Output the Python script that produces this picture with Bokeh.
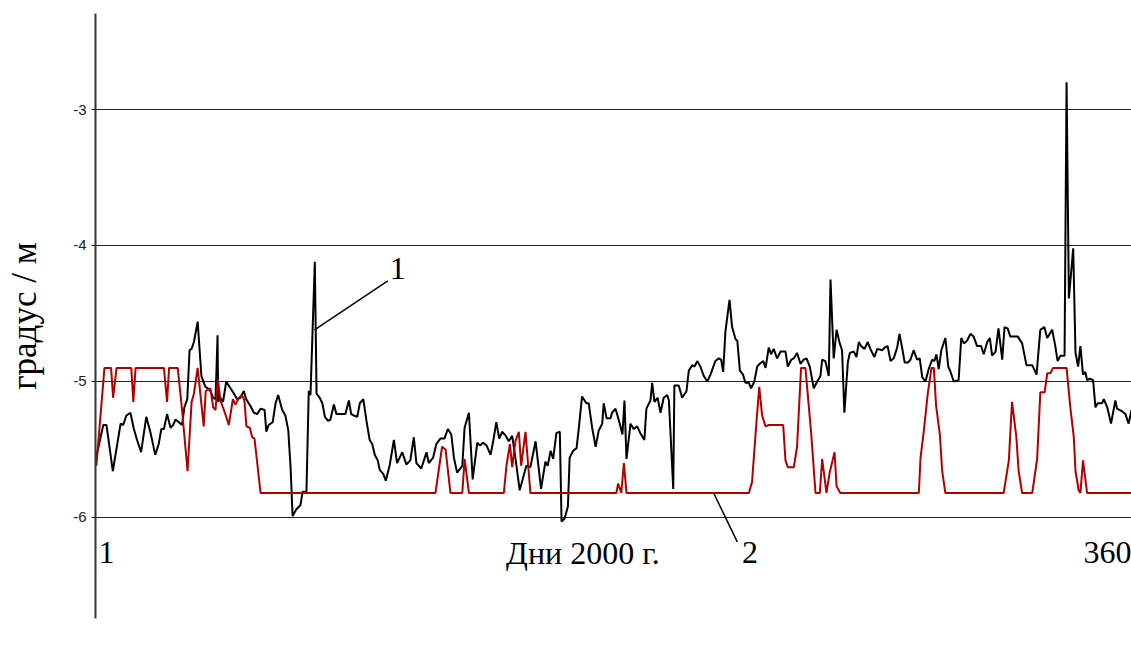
from bokeh.embed import file_html
from bokeh.models import FixedTicker, Label, Range1d
from bokeh.plotting import figure
from bokeh.resources import INLINE

# Series 1 (black): daily gradient values, day of year 2000 -> degrees per metre
BLACK_DAYS = [
    1.3, 3.7, 4.8, 7.0, 9.7, 10.6, 11.7, 13.1, 14.3, 15.4, 16.8, 18.6, 20.1, 21.7, 22.9,
    23.8, 24.7, 25.8, 27.0, 27.9, 28.7, 29.9, 31.0, 31.8, 32.8, 33.6, 34.3, 35.1, 36.4,
    37.7, 39.1, 39.9, 40.8, 41.8, 42.6, 43.3, 43.5, 44.3, 45.2, 46.3, 47.5, 48.7, 50.1,
    51.2, 52.4, 53.2, 54.7, 55.9, 57.0, 58.2, 59.6, 60.2, 61.0, 62.4, 63.4, 64.3, 65.7,
    66.8, 67.8, 68.6, 69.3, 70.6, 72.0, 72.8, 74.1, 74.9, 75.5, 77.0, 77.6, 78.7, 79.6,
    80.5, 81.6, 82.4, 83.6, 84.5, 87.6, 88.8, 89.6, 90.5, 91.7, 92.6, 93.8, 94.9, 96.0,
    96.9, 97.8, 98.8, 99.5, 100.7, 101.6, 103.0, 104.4, 105.5, 107.3, 108.7, 110.1,
    111.3, 112.2, 113.9, 114.8, 115.7, 116.5, 118.0, 119.1, 120.5, 121.9, 123.1, 124.3,
    125.2, 126.3, 128.1, 128.9, 130.4, 131.7, 133.3, 134.2, 135.3, 136.5, 137.9, 138.8,
    139.9, 140.9, 141.9, 143.2, 144.2, 145.4, 146.5, 148.0, 149.4, 150.3, 151.7, 153.5,
    155.4, 156.9, 157.7, 158.7, 159.6, 160.7, 161.9, 162.5, 163.5, 164.7, 165.3, 166.5,
    167.7, 168.5, 169.6, 171.1, 171.9, 173.1, 174.3, 175.4, 176.6, 177.1, 178.1, 179.5,
    180.0, 181.2, 182.0, 182.9, 183.6, 184.3, 185.0, 186.4, 187.5, 188.7, 189.8, 191.2,
    191.9, 193.3, 193.9, 194.7, 195.8, 196.8, 197.9, 199.1, 199.7, 201.2, 201.6, 203.1,
    204.3, 205.8, 206.6, 207.8, 208.6, 209.5, 210.6, 211.8, 213.0, 214.1, 215.8, 217.0,
    217.8, 218.5, 219.3, 220.7, 221.6, 222.8, 223.4, 224.3, 225.4, 226.2, 227.4, 228.2,
    229.3, 230.3, 231.2, 232.4, 233.2, 234.3, 235.1, 236.0, 237.2, 238.4, 240.1, 240.9,
    242.1, 243.0, 244.1, 245.3, 246.4, 247.4, 248.5, 249.9, 251.1, 252.2, 252.8, 253.9,
    255.1, 255.7, 256.8, 257.8, 258.9, 259.7, 260.5, 261.7, 262.4, 263.8, 264.7, 265.5,
    266.3, 267.5, 268.6, 269.5, 270.9, 271.9, 273.6, 274.5, 275.5, 276.5, 277.6, 278.8,
    279.6, 280.5, 281.4, 282.5, 283.4, 284.5, 285.7, 286.6, 287.5, 288.6, 289.7, 290.9,
    291.7, 292.4, 293.2, 294.1, 295.5, 296.5, 297.3, 298.4, 300.1, 301.0, 301.9, 303.0,
    304.2, 305.3, 306.5, 307.9, 308.8, 310.0, 310.9, 311.7, 312.9, 313.9, 315.2, 316.0,
    317.1, 318.0, 320.6, 322.1, 323.6, 325.6, 327.1, 328.4, 329.8, 330.8, 332.5, 333.6,
    334.4, 335.4, 336.8, 337.5, 338.3, 339.8, 340.6, 341.5, 342.3, 343.2, 344.0, 344.6,
    345.5, 346.7, 347.5, 348.3, 349.8, 350.4, 351.6, 352.9, 354.4, 355.0, 356.8, 357.9,
    359.0, 360.0,
]
BLACK_VALUES = [
    -5.55, -5.32, -5.32, -5.66, -5.31, -5.32, -5.25, -5.23, -5.35, -5.43, -5.52, -5.26,
    -5.38, -5.54, -5.46, -5.35, -5.35, -5.24, -5.34, -5.32, -5.28, -5.30, -5.32, -5.19,
    -5.13, -4.77, -4.76, -4.71, -4.56, -4.96, -5.04, -5.05, -5.07, -5.12, -5.13, -4.66,
    -5.15, -5.12, -5.15, -5.00, -5.04, -5.08, -5.13, -5.12, -5.07, -5.13, -5.18, -5.23,
    -5.24, -5.20, -5.21, -5.37, -5.32, -5.30, -5.16, -5.10, -5.21, -5.25, -5.36, -5.63,
    -5.99, -5.94, -5.91, -5.81, -5.81, -5.07, -5.10, -4.12, -5.09, -5.12, -5.16, -5.26,
    -5.29, -5.28, -5.17, -5.24, -5.24, -5.14, -5.24, -5.25, -5.26, -5.16, -5.13, -5.29,
    -5.43, -5.46, -5.54, -5.58, -5.65, -5.68, -5.73, -5.61, -5.43, -5.60, -5.52, -5.61,
    -5.58, -5.41, -5.60, -5.64, -5.58, -5.52, -5.60, -5.56, -5.46, -5.42, -5.42, -5.35,
    -5.39, -5.56, -5.67, -5.62, -5.34, -5.23, -5.72, -5.45, -5.47, -5.45, -5.47, -5.54,
    -5.44, -5.30, -5.42, -5.37, -5.40, -5.44, -5.40, -5.56, -5.80, -5.69, -5.62, -5.63,
    -5.44, -5.79, -5.59, -5.62, -5.51, -5.57, -5.38, -5.37, -6.03, -6.01, -5.92, -5.56,
    -5.51, -5.49, -5.34, -5.11, -5.16, -5.16, -5.34, -5.48, -5.36, -5.31, -5.16, -5.27,
    -5.27, -5.23, -5.20, -5.26, -5.33, -5.39, -5.14, -5.57, -5.31, -5.35, -5.33, -5.38,
    -5.43, -5.20, -5.14, -5.01, -5.15, -5.12, -5.23, -5.12, -5.10, -5.14, -5.79, -5.03,
    -5.03, -5.12, -5.07, -4.92, -4.88, -4.89, -4.85, -4.89, -4.96, -5.00, -4.95, -4.85,
    -4.83, -4.84, -4.93, -4.63, -4.40, -4.60, -4.69, -4.70, -4.92, -4.95, -5.01, -5.01,
    -5.05, -5.00, -4.89, -4.87, -4.85, -4.90, -4.75, -4.80, -4.76, -4.83, -4.78, -4.78,
    -4.89, -4.84, -4.83, -4.79, -4.87, -4.84, -4.83, -4.89, -5.05, -5.00, -4.96, -4.84,
    -4.85, -4.96, -4.25, -4.83, -4.62, -4.72, -4.77, -5.23, -4.86, -4.79, -4.78, -4.82,
    -4.71, -4.74, -4.76, -4.71, -4.76, -4.82, -4.76, -4.77, -4.75, -4.74, -4.85, -4.83,
    -4.75, -4.65, -4.75, -4.86, -4.86, -4.84, -4.77, -4.84, -4.83, -4.97, -5.00, -4.91,
    -4.84, -4.85, -4.80, -4.91, -4.77, -4.68, -4.89, -4.93, -5.00, -4.99, -4.68, -4.72,
    -4.70, -4.65, -4.67, -4.74, -4.74, -4.80, -4.71, -4.68, -4.81, -4.78, -4.61, -4.84,
    -4.60, -4.61, -4.67, -4.67, -4.72, -4.88, -4.88, -4.95, -4.62, -4.60, -4.68, -4.62,
    -4.74, -4.85, -4.81, -4.81, -2.80, -4.39, -4.02, -4.79, -4.89, -4.74, -4.95, -4.93,
    -4.99, -4.98, -4.99, -5.19, -5.16, -5.16, -5.13, -5.19, -5.31, -5.14, -5.20, -5.22,
    -5.24, -5.31, -5.21,
]

# Series 2 (dark red)
RED_DAYS = [
    1.3, 4.1, 4.8, 6.4, 7.1, 8.3, 13.4, 14.1, 14.9, 24.7, 25.8, 26.5, 29.5, 31.0, 32.9,
    34.3, 35.1, 36.4, 38.5, 39.2, 40.8, 41.8, 42.6, 43.4, 44.3, 46.0, 47.2, 48.6, 49.5,
    50.7, 51.8, 52.6, 53.3, 54.5, 55.3, 56.1, 58.2, 118.8, 121.1, 122.3, 124.0, 128.1,
    128.9, 130.4, 142.5, 143.4, 144.6, 145.4, 146.5, 147.7, 148.5, 150.0, 151.7, 181.5,
    182.1, 183.2, 184.1, 185.0, 227.4, 228.5, 230.0, 231.0, 232.0, 233.2, 234.3, 239.3,
    240.1, 240.9, 243.0, 244.1, 245.5, 247.0, 249.0, 250.5, 252.0, 252.8, 254.3, 255.4,
    257.1, 257.8, 259.1, 286.3, 286.9, 288.0, 289.4, 290.7, 291.5, 292.3, 293.6, 294.4,
    295.5, 315.7, 317.5, 318.6, 320.1, 320.9, 322.1, 325.6, 327.3, 328.4, 329.9, 330.8,
    331.9, 332.8, 337.5, 338.8, 340.0, 340.6, 341.7, 342.3, 343.2, 344.6, 360.0,
]
RED_VALUES = [
    -5.62, -4.90, -4.90, -4.90, -5.12, -4.90, -4.90, -5.15, -4.90, -4.90, -5.15, -4.90,
    -4.90, -5.21, -5.66, -5.15, -5.09, -4.90, -5.33, -5.07, -5.05, -5.19, -5.21, -4.98,
    -5.14, -5.24, -5.32, -5.13, -5.17, -5.12, -5.10, -5.14, -5.33, -5.34, -5.41, -5.42,
    -5.82, -5.82, -5.48, -5.50, -5.82, -5.82, -5.57, -5.82, -5.82, -5.62, -5.46, -5.63,
    -5.44, -5.37, -5.62, -5.37, -5.82, -5.82, -5.75, -5.82, -5.60, -5.82, -5.82, -5.74,
    -5.31, -5.04, -5.25, -5.33, -5.32, -5.32, -5.58, -5.63, -5.63, -5.48, -4.90, -4.90,
    -5.38, -5.82, -5.82, -5.57, -5.82, -5.67, -5.52, -5.77, -5.82, -5.82, -5.56, -5.37,
    -5.09, -4.90, -4.90, -5.18, -5.39, -5.66, -5.82, -5.82, -5.58, -5.15, -5.41, -5.66,
    -5.82, -5.82, -5.57, -5.08, -5.08, -4.94, -4.94, -4.90, -4.90, -5.19, -5.41, -5.66,
    -5.80, -5.82, -5.58, -5.82, -5.82,
]

Y_TICKS = [-6, -5, -4, -3]
Y_TICK_LABELS = ["-6", "-5", "-4", "-3"]

X_FIRST_LABEL = "1"
X_LAST_LABEL = "360"
X_TITLE = "Дни 2000 г."
Y_TITLE = "градус / м"

SERIF = "Liberation Serif"
INK = "#000000"
RED = "#b00000"

p = figure(
    width=1131,
    height=645,
    output_backend="svg",
    toolbar_location=None,
    x_range=Range1d(1, 360),
    y_range=Range1d(-6.743, -2.294),
    x_axis_location=None,
    min_border_left=95,
    min_border_right=0,
    min_border_top=13,
    min_border_bottom=27,
)
p.outline_line_color = None
p.background_fill_color = "white"
p.border_fill_color = "white"

# horizontal rules at whole degrees
p.xgrid.visible = False
p.ygrid.ticker = FixedTicker(ticks=Y_TICKS)
p.ygrid.grid_line_color = "#222222"
p.ygrid.grid_line_width = 1

ax = p.yaxis[0]
ax.ticker = FixedTicker(ticks=Y_TICKS)
ax.major_label_overrides = {t: s for t, s in zip(Y_TICKS, Y_TICK_LABELS)}
ax.axis_line_color = "#333333"
ax.axis_line_width = 2
ax.major_tick_out = 4
ax.major_tick_in = 0
ax.major_tick_line_color = "#222222"
ax.minor_tick_out = 0
ax.minor_tick_in = 0
ax.major_label_standoff = 5
ax.major_label_text_font = "Liberation Sans"
ax.major_label_text_font_size = "15px"
ax.major_label_text_color = "#222222"
ax.axis_label = Y_TITLE
ax.axis_label_text_font = SERIF
ax.axis_label_text_font_size = "35px"
ax.axis_label_text_font_style = "normal"
ax.axis_label_text_color = INK
ax.axis_label_standoff = 26

p.line(BLACK_DAYS, BLACK_VALUES, line_color=INK, line_width=2)
p.line(RED_DAYS, RED_VALUES, line_color=RED, line_width=2)

# callout leaders for the two curves
p.segment(x0=[102.3, 215.2], y0=[-4.26, -5.82], x1=[76.9, 223.4], y1=[-4.62, -6.18],
          line_color=INK, line_width=1.5)


def text(x, y, s, align="left", x_offset=0):
    p.add_layout(Label(x=x, y=y, text=s, text_font=SERIF, text_font_size="32px",
                       text_align=align, text_baseline="alphabetic",
                       x_offset=x_offset, text_color=INK))


text(103.0, -4.17, "1")
text(225.0, -6.26, "2")
text(1, -6.26, X_FIRST_LABEL, x_offset=3)
text(360, -6.26, X_LAST_LABEL, align="right")
text(169.9, -6.26, X_TITLE, align="center")

open("out.html", "w").write(file_html(p, INLINE))
